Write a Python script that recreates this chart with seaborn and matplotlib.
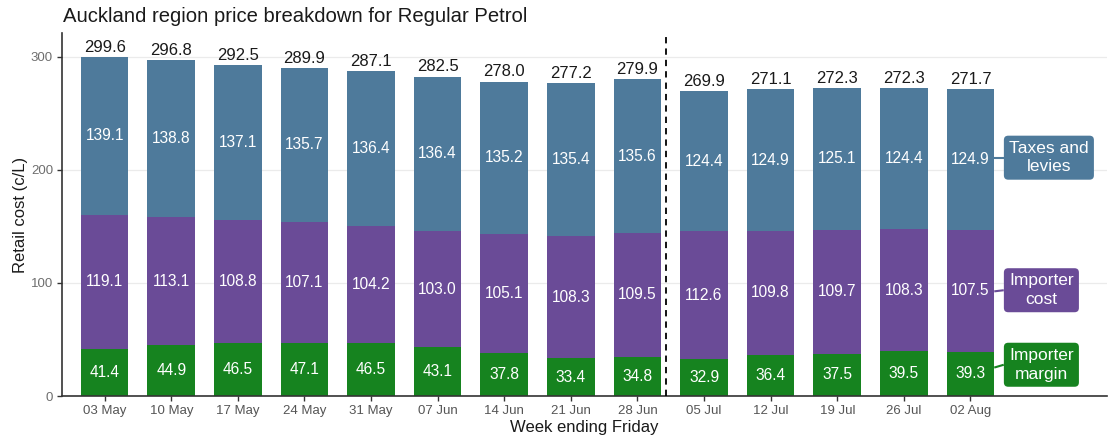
import matplotlib
matplotlib.use("Agg")
import matplotlib.pyplot as plt
import seaborn as sns
import pandas as pd

# ---- data ----
weeks = ["03 May", "10 May", "17 May", "24 May", "31 May", "07 Jun", "14 Jun",
         "21 Jun", "28 Jun", "05 Jul", "12 Jul", "19 Jul", "26 Jul", "02 Aug"]
importer_margin = [41.4, 44.9, 46.5, 47.1, 46.5, 43.1, 37.8, 33.4, 34.8, 32.9, 36.4, 37.5, 39.5, 39.3]
importer_cost = [119.1, 113.1, 108.8, 107.1, 104.2, 103.0, 105.1, 108.3, 109.5, 112.6, 109.8, 109.7, 108.3, 107.5]
taxes_levies = [139.1, 138.8, 137.1, 135.7, 136.4, 136.4, 135.2, 135.4, 135.6, 124.4, 124.9, 125.1, 124.4, 124.9]
totals = [299.6, 296.8, 292.5, 289.9, 287.1, 282.5, 278.0, 277.2, 279.9, 269.9, 271.1, 272.3, 272.3, 271.7]
series_names = ["Taxes and\nlevies", "Importer\ncost", "Importer\nmargin"]

BLUE = "#4E7A9B"
PURPLE = "#6A4B97"
GREEN = "#16831F"

sns.set_theme(style="white")
plt.rcParams["font.family"] = ["Liberation Sans", "DejaVu Sans"]

df = pd.DataFrame({"week": weeks, "margin": importer_margin,
                   "cost": importer_cost, "taxes": taxes_levies})
df["lvl2"] = df["margin"] + df["cost"]
df["lvl3"] = df["lvl2"] + df["taxes"]

fig = plt.figure(figsize=(11.14, 4.36), dpi=100)
ax = fig.add_axes([0.0557, 0.0917, 0.9380, 0.8326])

W = 0.715
ax.grid(axis="y", color="#EBEBEB", linewidth=0.9, zorder=0)
ax.set_axisbelow(True)
for col, c in [("lvl3", BLUE), ("lvl2", PURPLE), ("margin", GREEN)]:
    sns.barplot(data=df, x="week", y=col, order=weeks, color=c, saturation=1,
                width=W, errorbar=None, ax=ax, zorder=2, linewidth=0)

for i in range(len(weeks)):
    m, c, t = importer_margin[i], importer_cost[i], taxes_levies[i]
    ax.text(i, m / 2, f"{m:.1f}", ha="center", va="center", color="white", fontsize=11.2, zorder=4)
    ax.text(i, m + c / 2, f"{c:.1f}", ha="center", va="center", color="white", fontsize=11.2, zorder=4)
    ax.text(i, m + c + t / 2, f"{t:.1f}", ha="center", va="center", color="white", fontsize=11.2, zorder=4)
    ax.annotate(f"{totals[i]:.1f}", (i, m + c + t), xytext=(0, 1.5), textcoords="offset points",
                ha="center", va="bottom", color="#1A1A1A", fontsize=12, zorder=4)

# dashed separator (1 July)
ax.axvline(8 + 3 / 7, color="black", linestyle=(0, (3.5, 2.8)), linewidth=1.3, zorder=3)

# direct labels on the right
last = len(weeks) - 1
edge = last + W / 2
lm, lc, lt = importer_margin[last], importer_cost[last], taxes_levies[last]
label_specs = [
    (series_names[0], BLUE, lm + lc + lt / 2 + 1.5, lm + lc + lt / 2 + 1.5),
    (series_names[1], PURPLE, lm + lc / 2 - 0.5, lm + lc / 2 + 0.5),
    (series_names[2], GREEN, lm / 2 + 5.5, lm / 2 + 8.0),
]
box_left = 13.5
for name, col, y0, y1 in label_specs:
    ax.plot([edge, box_left], [y0, y1], color=col, linewidth=1.5, zorder=3, solid_capstyle="butt")
    ax.text(box_left + 0.08, y1, name, ha="left", va="center", color="white", fontsize=12.5,
            multialignment="center", linespacing=1.3, zorder=5,
            bbox=dict(boxstyle="round,pad=0.3,rounding_size=0.25", fc=col, ec="none"))

ax.set_xlim(-0.64, 15.05)
ax.set_ylim(0, 321)
ax.set_yticks([0, 100, 200, 300])
ax.set_xlabel("Week ending Friday", fontsize=12, color="#1A1A1A", labelpad=2)
ax.set_ylabel("Retail cost (c/L)", fontsize=12, color="#1A1A1A", labelpad=2)
ax.tick_params(axis="both", which="major", length=3.5, width=1, color="#333333",
               labelcolor="#555555", labelsize=9.5, pad=3, bottom=True, left=True)
ax.tick_params(axis="y", labelcolor="#6E6E6E")
for s in ["top", "right"]:
    ax.spines[s].set_visible(False)
for s in ["left", "bottom"]:
    ax.spines[s].set_color("#333333")
    ax.spines[s].set_linewidth(1.2)

fig.text(0.0565, 0.963, "Auckland region price breakdown for Regular Petrol",
         ha="left", va="center", fontsize=14.6, color="#1A1A1A")

fig.savefig("out.png", dpi=100)
